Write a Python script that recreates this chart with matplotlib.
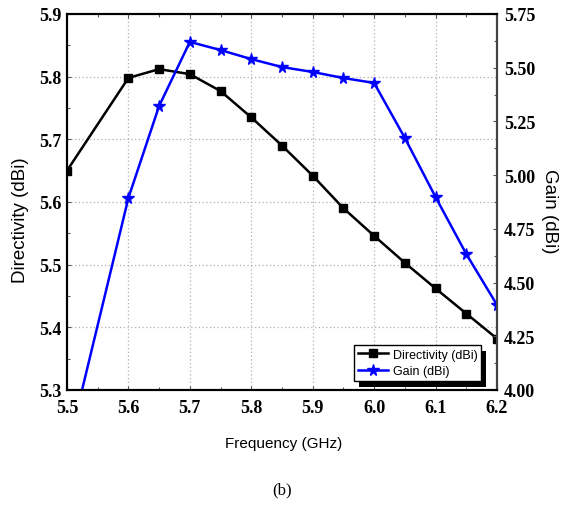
import matplotlib
matplotlib.use("Agg")
import matplotlib.pyplot as plt
from matplotlib.ticker import MultipleLocator, FormatStrFormatter
from matplotlib.font_manager import FontProperties
from matplotlib.patches import Rectangle

freq = [5.50, 5.60, 5.65, 5.70, 5.75, 5.80, 5.85, 5.90, 5.95, 6.00, 6.05, 6.10, 6.15, 6.20]
directivity = [5.650, 5.798, 5.812, 5.804, 5.777, 5.735, 5.690, 5.642, 5.590, 5.546, 5.503, 5.462, 5.422, 5.382]
gain = [3.71, 4.894, 5.322, 5.620, 5.582, 5.540, 5.503, 5.480, 5.452, 5.429, 5.173, 4.898, 4.633, 4.396]

tick_fp = FontProperties(family="Liberation Serif", weight="bold", size=13)

fig = plt.figure(figsize=(5.62, 5.06), dpi=100)
ax = fig.add_axes([0.1192, 0.2273, 0.7651, 0.7431])
ax2 = ax.twinx()

l1, = ax.plot(freq, directivity, color="black", lw=1.8, marker="s", ms=5.5, label="Directivity (dBi)")
l2, = ax2.plot(freq, gain, color="#0000ff", lw=1.8, marker="*", ms=8.5, label="Gain (dBi)")

ax.set_xlim(5.5, 6.2)
ax.set_ylim(5.3, 5.9)
ax2.set_ylim(4.0, 5.75)

ax.xaxis.set_major_locator(MultipleLocator(0.1))
ax.xaxis.set_minor_locator(MultipleLocator(0.05))
ax.yaxis.set_major_locator(MultipleLocator(0.1))
ax.yaxis.set_minor_locator(MultipleLocator(0.05))
ax2.yaxis.set_major_locator(MultipleLocator(0.25))
ax2.yaxis.set_minor_locator(MultipleLocator(0.125))
ax.xaxis.set_major_formatter(FormatStrFormatter("%.1f"))
ax.yaxis.set_major_formatter(FormatStrFormatter("%.1f"))
ax2.yaxis.set_major_formatter(FormatStrFormatter("%.2f"))

ax.grid(True, which="major", color="#b0b0b0", linestyle=(0, (1, 2)), lw=0.9)

for a in (ax, ax2):
    a.tick_params(which="both", direction="in", length=3, width=0.8, color="#555555")
    a.tick_params(which="minor", length=2)
ax.tick_params(top=True, which="both")
ax.tick_params(axis="x", which="major", pad=6.5)
ax.tick_params(axis="y", which="major", pad=3.6)
ax2.tick_params(axis="y", which="major", pad=5)
for lab in ax.get_xticklabels() + ax.get_yticklabels() + ax2.get_yticklabels():
    lab.set_fontproperties(tick_fp)

for s in list(ax.spines.values()) + list(ax2.spines.values()):
    s.set_linewidth(1.5)
ax2.spines["right"].set_color("#444444")

ax.set_xlabel("Frequency (GHz)", family="Liberation Sans", size=11)
ax.xaxis.set_label_coords(0.504, -0.141)
ax.xaxis.label.set_va("center")
ax.set_ylabel("Directivity (dBi)", family="Liberation Sans", size=13.5)
ax.yaxis.set_label_coords(-0.109, 0.455)
ax.yaxis.label.set_va("center")
ax2.set_ylabel("Gain (dBi)", rotation=270, family="Liberation Sans", size=13.5)
ax2.yaxis.set_label_coords(1.123, 0.479)
ax2.yaxis.label.set_va("center")

leg = ax.legend(handles=[l1, l2], loc="lower right", bbox_to_anchor=(0.963, 0.024),
                frameon=True, fancybox=False, shadow=False,
                prop={"family": "Liberation Sans", "size": 9},
                handlelength=2.4, handletextpad=0.35, borderpad=0.3, labelspacing=0.35,
                borderaxespad=0.0)
leg.get_frame().set_edgecolor("black")
leg.get_frame().set_linewidth(1.0)
leg.get_frame().set_alpha(1)
leg.set_zorder(10)

fig.canvas.draw()
bb = leg.get_window_extent()
W, H = fig.bbox.width, fig.bbox.height
dx, dy = 5, 6
shadow = Rectangle(((bb.x0 + dx) / W, (bb.y0 - dy) / H), bb.width / W, bb.height / H,
                   transform=fig.transFigure, facecolor="black", edgecolor="none",
                   zorder=9, clip_on=False)
ax.add_patch(shadow)

fig.text(0.5 * (0.1192 + 0.8843), 1 - 490 / 506, "(b)", ha="center", va="center",
         family="Liberation Serif", size=12)

fig.savefig("out.png", dpi=100)
